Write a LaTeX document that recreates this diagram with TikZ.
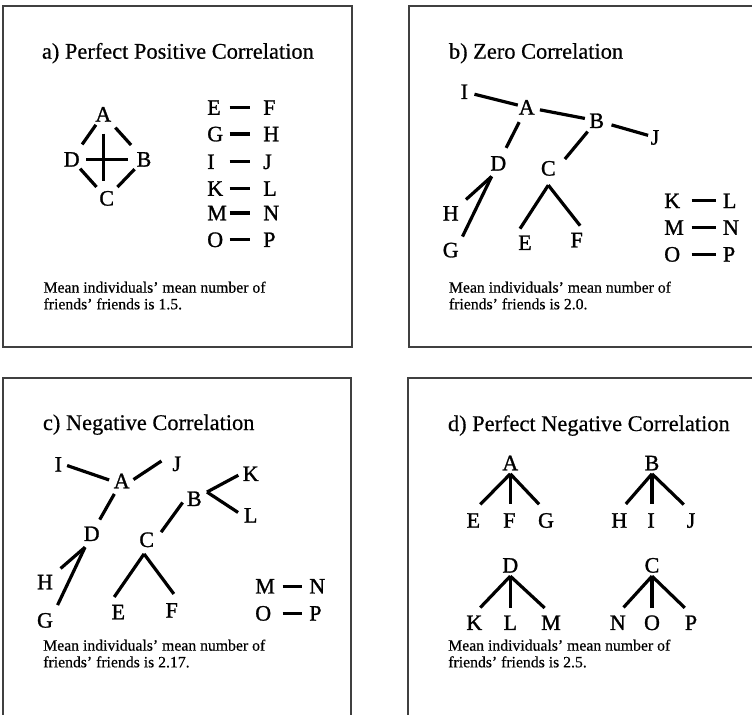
\documentclass[tikz,border=0pt]{standalone}
\usepackage{fontspec}
\setmainfont{Liberation Serif}
\newfontfamily\lfont[FakeBold=1.2]{Liberation Serif}
\newfontfamily\tfont[FakeBold=0.5,Ligatures=TeX]{Liberation Serif}
\begin{document}
\begin{tikzpicture}[x=0.75pt,y=-0.75pt,
  panel/.style={draw=black!75,line width=0.8pt},
  ttl/.style={anchor=base west,inner sep=0pt,font=\tfont\fontsize{16.8}{20}\selectfont},
  captxt/.style={anchor=north west,inner sep=0pt,align=left,font=\tfont\fontsize{11.8}{12.5}\selectfont},
  lt/.style={inner sep=1pt,font=\lfont\fontsize{16.5}{19}\selectfont,text height=10.9pt,text depth=0pt},
  lcol/.style={lt,anchor=west,inner sep=0pt,text width=14.5pt,align=left},
  rcol/.style={lt,anchor=west,inner sep=0pt},
  lnk/.style={line width=2.4pt,shorten <=2pt,shorten >=2pt},
]
\useasboundingbox (0,0) rectangle (752,714);
\begin{scope}
\clip (0,0) rectangle (752,714);
\draw[panel] (3,6) rectangle (352,347);
\draw[panel] (409,6) rectangle (770,347);
\draw[panel] (3,378) rectangle (351,730);
\draw[panel] (408,378) rectangle (770,730);
\end{scope}

% ---------- a) ----------
\node[ttl] (ta) at (41.7,58.7) {a) Perfect Positive Correlation};
\node[lt] (aA) at (103.3,114.3) {A};
\node[lt] (aD) at (71.7,159.3) {D};
\node[lt] (aB) at (144,159.3) {B};
\node[lt] (aC) at (106.7,198.3) {C};
\draw[lnk,shorten <=1.5pt,shorten >=5.5pt] (aA) -- (aD);
\draw[lnk,shorten <=4.5pt,shorten >=5.5pt] (aA) -- (aB);
\draw[lnk,shorten <=0.5pt,shorten >=2.5pt] (aD) -- (aC);
\draw[lnk,shorten <=1pt,shorten >=2.5pt] (aB) -- (aC);
\draw[lnk,shorten <=7.8pt,shorten >=6pt] (aA.south) -- (aA.south |- aC.north);
\draw[lnk,shorten <=3.6pt,shorten >=5.2pt] (aD.east) -- (aD.east -| aB.west);
\foreach \l/\r/\y in {E/F/107.5,G/H/134,I/J/161.7,K/L/188.5,M/N/213,O/P/239.7}{
  \node[lcol] (a\l) at (207,\y) {\l};
  \node[rcol] (a\r) at (263,\y) {\r};
  \draw[lnk,shorten <=2pt,shorten >=9.5pt] (a\l.east) -- (a\l.east -| a\r.west);
}
\node[captxt] (capa) at (43.3,281.3) {Mean individuals’ mean number of\\friends’ friends is 1.5.};

% ---------- b) ----------
\node[ttl] (tb) at (448.7,58.7) {b) Zero Correlation};
\node[lt] (bI) at (464.3,91.7) {I};
\node[lt] (bA) at (526.7,107.3) {A};
\node[lt] (bB) at (596.7,120.7) {B};
\node[lt] (bJ) at (655,137.3) {J};
\node[lt] (bD) at (498.3,163.3) {D};
\node[lt] (bC) at (548.3,168.3) {C};
\node[lt] (bH) at (450.7,213.3) {H};
\node[lt] (bG) at (450.7,250) {G};
\node[lt] (bE) at (525,242.7) {E};
\node[lt] (bF) at (576.7,240) {F};
\draw[lnk,shorten <=3.8pt,shorten >=-0.5pt] (bI) -- (bA);
\draw[lnk,shorten <=2.8pt,shorten >=2.2pt] (bA) -- (bB);
\draw[lnk,shorten <=4.6pt,shorten >=0.8pt] (bB) -- (bJ);
\draw[lnk,shorten <=5pt,shorten >=5.5pt] (bA) -- (bD);
\draw[lnk,shorten <=2pt,shorten >=9pt] (bB) -- (bC.east);
\draw[lnk,shorten <=0pt,shorten >=5.8pt] ([xshift=-5pt,yshift=-3.2pt]bD.south) -- (bH);
\draw[lnk,shorten <=0pt,shorten >=3.8pt] ([xshift=-5pt,yshift=-3.2pt]bD.south) -- (bG.north east);
\draw[lnk,shorten <=0pt,shorten >=4.6pt] ([yshift=-6pt]bC.south) -- (bE.north west);
\draw[lnk,shorten <=0pt,shorten >=5.2pt] ([yshift=-6pt]bC.south) -- (bF.north east);
\foreach \l/\r/\y in {K/L/200.8,M/N/227.5,O/P/254.3}{
  \node[lcol] (b\l) at (664,\y) {\l};
  \node[rcol] (b\r) at (722.7,\y) {\r};
  \draw[lnk,shorten <=5.8pt,shorten >=5pt] (b\l.east) -- (b\l.east -| b\r.west);
}
\node[captxt] (capb) at (448.7,281.3) {Mean individuals’ mean number of\\friends’ friends is 2.0.};

% ---------- c) ----------
\node[ttl] (tc) at (42.7,430) {c) Negative Correlation};
\node[lt] (cI) at (58.3,464.3) {I};
\node[lt] (cA) at (121.7,481) {A};
\node[lt] (cJ) at (176.7,463.7) {J};
\node[lt] (cB) at (194.3,498.7) {B};
\node[lt] (cK) at (250.7,473.7) {K};
\node[lt] (cL) at (250.7,515.3) {L};
\node[lt] (cD) at (91.7,533.7) {D};
\node[lt] (cC) at (146.7,539.7) {C};
\node[lt] (cH) at (45,582) {H};
\node[lt] (cG) at (45,620.3) {G};
\node[lt] (cE) at (118.3,612) {E};
\node[lt] (cF) at (171.7,610.3) {F};
\draw[lnk,shorten <=2.8pt,shorten >=2.4pt] (cI.east) -- (cA.west);
\draw[lnk,shorten <=2pt,shorten >=8.4pt] (cA.east) -- (cJ.north west);
\draw[lnk,shorten <=3.5pt,shorten >=4.5pt] (cA) -- (cD);
\draw[lnk,shorten <=3.5pt,shorten >=7pt] (cB.west) -- (cC.east);
\draw[lnk,shorten <=0pt,shorten >=2.4pt] ([xshift=2.8pt,yshift=5pt]cB.east) -- (cK.west);
\draw[lnk,shorten <=0pt,shorten >=3.9pt] ([xshift=2.8pt,yshift=5pt]cB.east) -- (cL.west);
\draw[lnk,shorten <=0pt,shorten >=6pt] ([xshift=-5pt,yshift=-3.5pt]cD.south) -- (cH);
\draw[lnk,shorten <=0pt,shorten >=5.3pt] ([xshift=-5pt,yshift=-3.5pt]cD.south) -- (cG.north east);
\draw[lnk,shorten <=0pt,shorten >=5.6pt] ([xshift=-2pt,yshift=-4pt]cC.south) -- (cE.north west);
\draw[lnk,shorten <=0pt,shorten >=7pt] ([xshift=-2pt,yshift=-4pt]cC.south) -- (cF.north east);
\foreach \l/\r/\y in {M/N/586.2,O/P/613.3}{
  \node[lcol] (c\l) at (255,\y) {\l};
  \node[rcol] (c\r) at (309,\y) {\r};
  \draw[lnk,shorten <=5.8pt,shorten >=5.2pt] (c\l.east) -- (c\l.east -| c\r.west);
}
\node[captxt] (capc) at (43,639.3) {Mean individuals’ mean number of\\friends’ friends is 2.17.};

% ---------- d) ----------
\node[ttl] (td) at (447.7,431) {d) Perfect Negative Correlation};
\foreach \p/\x/\y/\a/\ax/\b/\bx/\c/\cx/\ds/\vs in {
  A/510.3/463/E/473.3/F/509.3/G/546/7.5pt/5.5pt,
  B/652/463/H/619.3/I/651/J/691/7.5pt/5.5pt,
  D/510.3/565.3/K/474.3/L/510.3/M/551/6.5pt/4.5pt,
  C/652/565.3/N/617.7/O/652/P/691/6.5pt/4.5pt}{
  \node[lt] (d\p) at (\x,\y) {\p};
  \node[lt] (d\a) at (\ax,\y+57.4) {\a};
  \node[lt] (d\b) at (\bx,\y+57.4) {\b};
  \node[lt] (d\c) at (\cx,\y+57.4) {\c};
  \draw[lnk,shorten <=0pt,shorten >=\ds] ([yshift=-1.5pt]d\p.south) -- (d\a.north);
  \draw[lnk,shorten <=0pt,shorten >=\vs] ([yshift=-1.5pt]d\p.south) -- (d\p.south |- d\b.north);
  \draw[lnk,shorten <=0pt,shorten >=\ds] ([yshift=-1.5pt]d\p.south) -- (d\c.north);
}
\node[captxt] (capd) at (448,639.3) {Mean individuals’ mean number of\\friends’ friends is 2.5.};
\end{tikzpicture}
\end{document}
